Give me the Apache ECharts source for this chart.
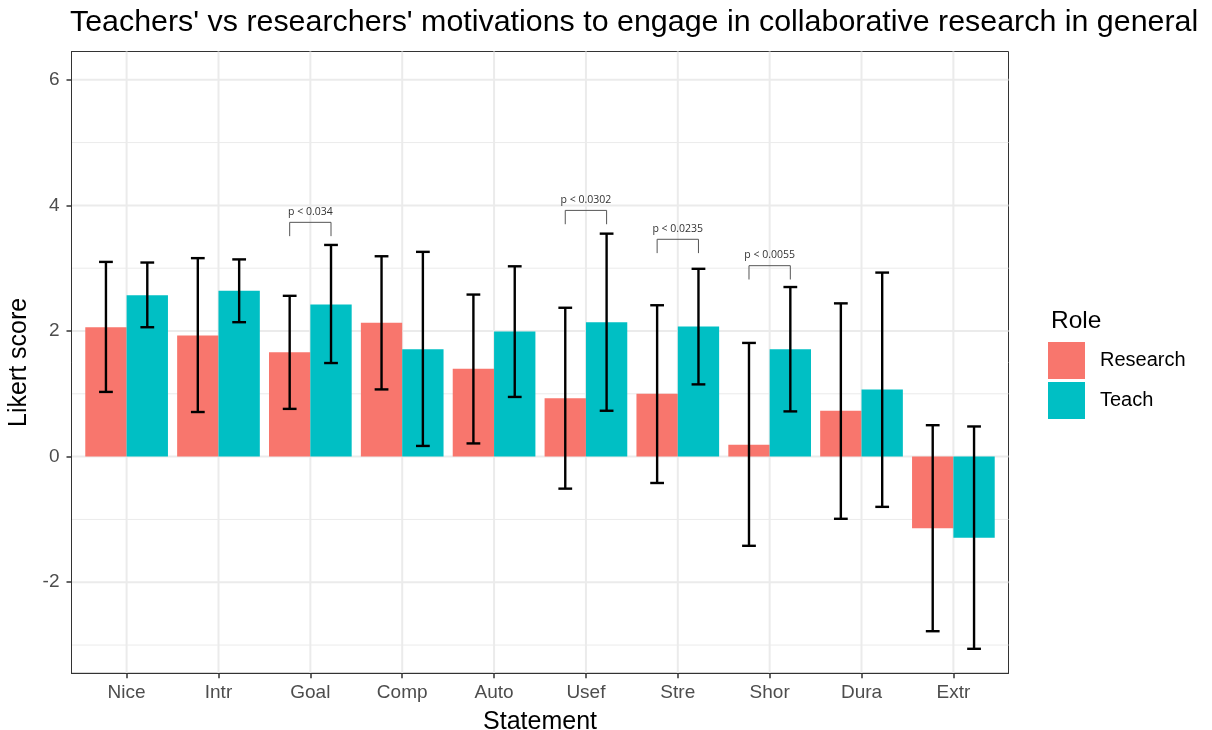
<!DOCTYPE html>
<html>
<head>
<meta charset="utf-8">
<script src="https://cdn.jsdelivr.net/npm/echarts@6/dist/echarts.min.js"></script>
<style>html,body{margin:0;padding:0;background:#fff;}#c{width:1212px;height:730px;}</style>
</head>
<body>
<div id="c"></div>
<script>
const categories = ['Nice','Intr','Goal','Comp','Auto','Usef','Stre','Shor','Dura','Extr'];
const researchMean = [2.06, 1.93, 1.66, 2.13, 1.40, 0.93, 1.00, 0.19, 0.73, -1.14];
const researchLow  = [1.03, 0.71, 0.76, 1.07, 0.21, -0.51, -0.42, -1.42, -0.99, -2.78];
const researchHigh = [3.10, 3.16, 2.56, 3.19, 2.58, 2.37, 2.41, 1.81, 2.44, 0.50];
const teachMean = [2.57, 2.64, 2.42, 1.71, 1.99, 2.14, 2.07, 1.71, 1.07, -1.29];
const teachLow  = [2.06, 2.14, 1.49, 0.17, 0.95, 0.73, 1.15, 0.72, -0.80, -3.06];
const teachHigh = [3.09, 3.14, 3.37, 3.26, 3.03, 3.55, 2.99, 2.70, 2.93, 0.48];
const sigCategories = ['Goal','Usef','Stre','Shor'];
const sigY = [3.73, 3.92, 3.46, 3.04];
const sigLabels = ['p < 0.034','p < 0.0302','p < 0.0235','p < 0.0055'];
const yMajorTicks = [-2, 0, 2, 4, 6];
const yMinorTicks = [-3, -1, 1, 3, 5];

const FONT = "'Liberation Sans', Arial, sans-serif";
const X_MIN = -0.6, X_MAX = 9.6, Y_MIN = -3.45, Y_MAX = 6.45;
const BAR_W = 0.45, CAP_HALF = 0.075, TIP = 0.22;
const catIdx = categories.map((c, i) => i);

function group(mean, low, high) {
  return mean.map((m, i) => [i, m, low[i], high[i]]);
}
function makeRender(offset) {
  return function (params, api) {
    const x = api.value(0) + offset;
    const m = api.value(1), lo = api.value(2), hi = api.value(3);
    const p1 = api.coord([x - BAR_W / 2, Math.max(m, 0)]);
    const p2 = api.coord([x + BAR_W / 2, Math.min(m, 0)]);
    const eb1 = api.coord([x, lo]), eb2 = api.coord([x, hi]);
    const cl = api.coord([x - CAP_HALF, lo]), cr = api.coord([x + CAP_HALF, lo]);
    const tl = api.coord([x - CAP_HALF, hi]), tr = api.coord([x + CAP_HALF, hi]);
    const ls = { stroke: '#000', lineWidth: 2.4 };
    return {
      type: 'group',
      children: [
        { type: 'rect', shape: { x: p1[0], y: p1[1], width: p2[0] - p1[0], height: p2[1] - p1[1] }, style: { fill: api.visual('color') } },
        { type: 'line', shape: { x1: eb1[0], y1: eb1[1], x2: eb2[0], y2: eb2[1] }, style: ls },
        { type: 'line', shape: { x1: cl[0], y1: cl[1], x2: cr[0], y2: cr[1] }, style: ls },
        { type: 'line', shape: { x1: tl[0], y1: tl[1], x2: tr[0], y2: tr[1] }, style: ls }
      ]
    };
  };
}

const sigData = sigCategories.map((c, i) => [categories.indexOf(c), sigY[i]]);

// gridline entries: [orientation (0 = horizontal, 1 = vertical), value, major flag]
const gridData = []
  .concat(yMajorTicks.map(v => [0, v, 1]))
  .concat(yMinorTicks.map(v => [0, v, 0]))
  .concat(catIdx.map(v => [1, v, 1]));

const chart = echarts.init(document.getElementById('c'), null, { renderer: 'canvas' });
chart.setOption({
  animation: false,
  backgroundColor: '#fff',
  color: ['#F8766D', '#00BFC4'],
  textStyle: { fontFamily: FONT },
  title: [
    { text: "Teachers' vs researchers' motivations to engage in collaborative research in general", left: 65, top: 3,
      textStyle: { fontSize: 30.4, fontWeight: 'normal', color: '#000', fontFamily: FONT } },
    { text: 'Role', left: 1046, top: 304, textStyle: { fontSize: 24.5, fontWeight: 'normal', color: '#000', fontFamily: FONT } }
  ],
  legend: {
    data: ['Research', 'Teach'], orient: 'vertical', left: 1048, top: 342, padding: 0,
    itemWidth: 37, itemHeight: 37, itemGap: 3, icon: 'rect',
    textStyle: { fontSize: 20, color: '#000', fontFamily: FONT, padding: [0, 0, 0, 10] }
  },
  grid: { left: 71.5, right: 203.5, top: 51.5, bottom: 56.7, show: true, borderColor: '#333', borderWidth: 1,
    containLabel: false, outerBoundsMode: 'none' },
  xAxis: {
    type: 'value', min: X_MIN, max: X_MAX,
    name: 'Statement', nameLocation: 'middle', nameGap: 36,
    nameTextStyle: { fontSize: 25, color: '#000', fontFamily: FONT },
    axisLine: { show: true, onZero: false, lineStyle: { color: '#333', width: 1 } },
    axisTick: { show: true, inside: false, customValues: catIdx, length: 5, lineStyle: { color: '#333', width: 1.5 } },
    axisLabel: { customValues: catIdx, formatter: v => categories[Math.round(v)], fontSize: 19, color: '#4d4d4d', margin: 10, fontFamily: FONT },
    splitLine: { show: false }
  },
  yAxis: {
    type: 'value', min: Y_MIN, max: Y_MAX,
    name: 'Likert score', nameLocation: 'middle', nameGap: 29,
    nameTextStyle: { fontSize: 25, color: '#000', fontFamily: FONT },
    axisLine: { show: true, onZero: false, lineStyle: { color: '#333', width: 1 } },
    axisTick: { show: true, inside: false, customValues: yMajorTicks, length: 5, lineStyle: { color: '#333', width: 1.5 } },
    axisLabel: { customValues: yMajorTicks, fontSize: 19, color: '#4d4d4d', margin: 12, fontFamily: FONT },
    splitLine: { show: false }
  },
  series: [
    {
      name: 'gridlines', type: 'custom', z: 0, silent: true,
      renderItem: function (params, api) {
        const o = api.value(0), v = api.value(1), major = api.value(2);
        const a = o === 0 ? api.coord([X_MIN, v]) : api.coord([v, Y_MIN]);
        const b = o === 0 ? api.coord([X_MAX, v]) : api.coord([v, Y_MAX]);
        return { type: 'line', shape: { x1: a[0], y1: a[1], x2: b[0], y2: b[1] },
          style: { stroke: '#ebebeb', lineWidth: major ? 2 : 1 } };
      },
      encode: { x: 1, y: 1 },
      data: gridData
    },
    { name: 'Research', type: 'custom', z: 3, renderItem: makeRender(-BAR_W / 2), itemStyle: { color: '#F8766D' },
      data: group(researchMean, researchLow, researchHigh) },
    { name: 'Teach', type: 'custom', z: 3, renderItem: makeRender(BAR_W / 2), itemStyle: { color: '#00BFC4' },
      data: group(teachMean, teachLow, teachHigh) },
    { name: 'sig', type: 'custom', z: 4, silent: true,
      renderItem: function (params, api) {
        const xi = api.value(0), y = api.value(1);
        const a = api.coord([xi - BAR_W / 2, y - TIP]), b = api.coord([xi - BAR_W / 2, y]);
        const c = api.coord([xi + BAR_W / 2, y]), d = api.coord([xi + BAR_W / 2, y - TIP]);
        const mid = api.coord([xi, y]);
        return { type: 'group', children: [
          { type: 'polyline', shape: { points: [a, b, c, d] }, style: { stroke: '#555', lineWidth: 1, fill: null } },
          { type: 'text', x: mid[0], y: mid[1] - 5, style: { text: sigLabels[params.dataIndex], fontSize: 10.5, fill: '#333',
            fontFamily: "'Open Sans', 'Noto Sans', sans-serif", align: 'center', verticalAlign: 'bottom' } }
        ] };
      },
      data: sigData
    }
  ]
});
</script>
</body>
</html>
